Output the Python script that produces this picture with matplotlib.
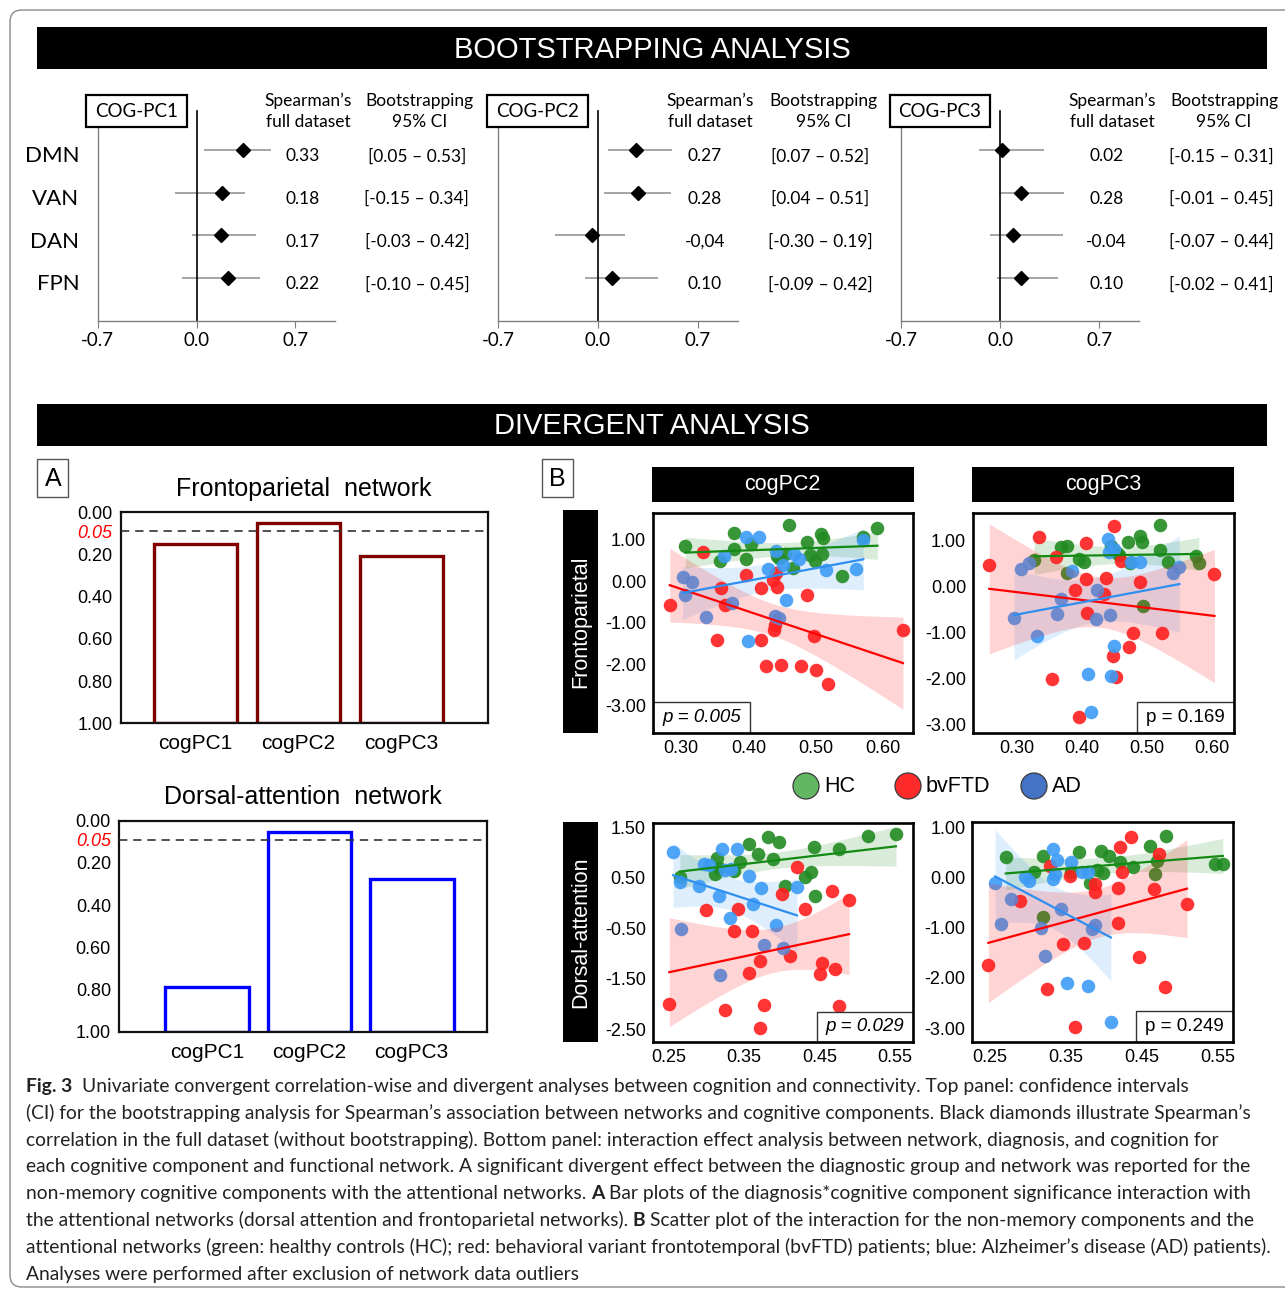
import numpy as np
import matplotlib
matplotlib.use("Agg")
import matplotlib.pyplot as plt
from matplotlib.patches import Rectangle, Circle, FancyBboxPatch

plt.rcParams['axes.unicode_minus'] = False

W, H = 1285, 1290
fig = plt.figure(figsize=(W / 100, H / 100), dpi=100)
ARIAL = ['Liberation Sans', 'DejaVu Sans']
CAL = ['Lato', 'DejaVu Sans']
CAP = ['Lato', 'DejaVu Sans']

# ---------------- data: bootstrapping forest plots ----------------
forest_titles = ["COG-PC1", "COG-PC2", "COG-PC3"]
networks = ["DMN", "VAN", "DAN", "FPN"]
rho_text = [["0.33", "0.18", "0.17", "0.22"],
            ["0.27", "0.28", "-0,04", "0.10"],
            ["0.02", "0.28", "-0.04", "0.10"]]
diamond_pos = [[0.33, 0.18, 0.17, 0.22],
               [0.27, 0.28, -0.04, 0.10],
               [0.01, 0.15, 0.09, 0.15]]
ci_low = [[0.05, -0.15, -0.03, -0.10],
          [0.07, 0.04, -0.30, -0.09],
          [-0.15, -0.01, -0.07, -0.02]]
ci_high = [[0.53, 0.34, 0.42, 0.45],
           [0.52, 0.51, 0.19, 0.42],
           [0.31, 0.45, 0.44, 0.41]]
forest_ticks = [-0.7, 0.0, 0.7]

# ---------------- data: bar plots (p values) ----------------
bar_cats = ["cogPC1", "cogPC2", "cogPC3"]
p_fronto = [0.152, 0.052, 0.207]
p_dorsal = [0.787, 0.055, 0.278]
p_thresh_pos = 0.09
bar_yticks = [0.0, p_thresh_pos, 0.2, 0.4, 0.6, 0.8, 1.0]
bar_ylabels = ["0.00", "0.05", "0.20", "0.40", "0.60", "0.80", "1.00"]

# ---------------- data: scatter plots ----------------
groups = ["HC", "bvFTD", "AD"]
# Frontoparietal x cogPC2
fp2_hc_x = [0.306, 0.378, 0.378, 0.404, 0.358, 0.397, 0.461, 0.443, 0.454, 0.445, 0.487, 0.492, 0.499, 0.508, 0.511, 0.510, 0.466, 0.540, 0.571, 0.592]
fp2_hc_y = [0.84, 1.16, 0.78, 0.90, 0.49, 0.52, 1.34, 0.60, 0.66, 0.56, 0.94, 0.62, 0.49, 1.14, 1.04, 0.66, 0.32, 0.12, 1.06, 1.27]
fp2_ad_x = [0.397, 0.416, 0.441, 0.363, 0.468, 0.476, 0.451, 0.429, 0.516, 0.560, 0.571, 0.456, 0.302, 0.316, 0.306, 0.376, 0.337, 0.439, 0.446, 0.400]
fp2_ad_y = [1.06, 1.06, 0.72, 0.61, 0.66, 0.52, 0.38, 0.28, 0.26, 0.30, 1.00, -0.45, 0.10, -0.02, -0.34, -0.53, -0.86, -0.85, -0.89, -1.44]
fp2_ftd_x = [0.332, 0.397, 0.441, 0.436, 0.443, 0.419, 0.359, 0.283, 0.365, 0.487, 0.439, 0.438, 0.419, 0.353, 0.497, 0.426, 0.449, 0.479, 0.500, 0.519, 0.630]
fp2_ftd_y = [0.69, 0.14, 0.20, 0.02, -0.14, -0.16, -0.16, -0.57, -0.58, -0.34, -1.07, -1.19, -1.41, -1.41, -1.32, -2.05, -2.03, -2.04, -2.15, -2.48, -1.17]
# Frontoparietal x cogPC3
fp3_hc_x = [0.327, 0.368, 0.377, 0.396, 0.404, 0.377, 0.445, 0.454, 0.458, 0.471, 0.490, 0.492, 0.474, 0.520, 0.521, 0.532, 0.575, 0.580, 0.494]
fp3_hc_y = [0.58, 0.85, 0.88, 0.60, 0.53, 0.29, 0.87, 0.73, 0.67, 0.96, 1.10, 0.96, 0.51, 0.78, 1.32, 0.53, 0.65, 0.51, -0.43]
fp3_ad_x = [0.307, 0.319, 0.385, 0.440, 0.442, 0.450, 0.475, 0.490, 0.541, 0.550, 0.423, 0.368, 0.296, 0.362, 0.422, 0.443, 0.331, 0.449, 0.410, 0.445, 0.414]
fp3_ad_y = [0.38, 0.51, 0.34, 1.03, 0.74, 0.80, 0.53, 0.53, 0.29, 0.42, -0.07, -0.27, -0.68, -0.61, -0.70, -0.63, -1.08, -1.30, -1.89, -1.95, -2.73]
fp3_ftd_x = [0.258, 0.335, 0.361, 0.407, 0.450, 0.461, 0.407, 0.437, 0.490, 0.604, 0.390, 0.435, 0.408, 0.479, 0.524, 0.472, 0.448, 0.354, 0.453, 0.396]
fp3_ftd_y = [0.46, 1.07, 0.64, 0.93, 1.30, 0.54, 0.15, 0.17, 0.09, 0.26, -0.09, -0.16, -0.58, -1.02, -1.02, -1.31, -1.50, -2.01, -1.96, -2.83]
# Dorsal-attention x cogPC2
da2_hc_x = [0.265, 0.314, 0.312, 0.317, 0.336, 0.345, 0.356, 0.369, 0.382, 0.396, 0.388, 0.404, 0.430, 0.439, 0.443, 0.444, 0.476, 0.514, 0.551]
da2_hc_y = [0.52, 0.90, 0.58, 0.69, 0.64, 0.81, 1.17, 0.97, 1.30, 1.20, 0.87, 0.34, 0.51, 0.61, 1.10, 0.13, 1.07, 1.33, 1.36]
da2_ad_x = [0.256, 0.265, 0.290, 0.297, 0.304, 0.321, 0.340, 0.325, 0.332, 0.317, 0.357, 0.372, 0.362, 0.331, 0.392, 0.420, 0.266, 0.376, 0.402, 0.318]
da2_ad_y = [1.00, 0.41, 0.34, 0.77, 0.75, 1.07, 1.07, 0.66, 0.67, 0.13, 0.54, 0.29, -0.02, -0.30, -0.43, 0.31, -0.51, -0.83, -0.90, -1.42]
da2_ftd_x = [0.299, 0.342, 0.336, 0.361, 0.400, 0.420, 0.430, 0.466, 0.489, 0.411, 0.371, 0.356, 0.453, 0.451, 0.470, 0.251, 0.325, 0.377, 0.371, 0.476]
da2_ftd_y = [-0.14, -0.12, -0.55, -0.55, 0.18, 0.72, -0.12, 0.23, 0.05, -1.05, -1.15, -1.39, -1.19, -1.40, -1.30, -2.00, -2.13, -2.03, -2.47, -2.04]
# Dorsal-attention x cogPC3
da3_hc_x = [0.271, 0.308, 0.320, 0.357, 0.367, 0.396, 0.407, 0.391, 0.399, 0.421, 0.438, 0.460, 0.469, 0.482, 0.467, 0.546, 0.556, 0.382, 0.320]
da3_hc_y = [0.40, 0.12, 0.42, 0.12, 0.50, 0.52, 0.42, 0.15, 0.10, 0.30, 0.20, 0.63, 0.32, 0.83, 0.07, 0.26, 0.26, -0.10, -0.78]
da3_ad_x = [0.257, 0.296, 0.301, 0.333, 0.338, 0.335, 0.333, 0.356, 0.371, 0.379, 0.278, 0.265, 0.317, 0.344, 0.384, 0.388, 0.322, 0.351, 0.379, 0.409]
da3_ad_y = [-0.11, 0.02, -0.07, 0.57, 0.35, 0.08, -0.03, 0.30, 0.11, 0.11, -0.43, -0.93, -1.00, -0.63, -1.02, -0.94, -1.57, -2.10, -2.16, -2.88]
da3_ftd_x = [0.329, 0.355, 0.388, 0.388, 0.421, 0.436, 0.424, 0.419, 0.466, 0.472, 0.509, 0.289, 0.418, 0.346, 0.374, 0.446, 0.248, 0.325, 0.480, 0.362]
da3_ftd_y = [0.22, 0.03, -0.13, -0.29, 0.60, 0.81, 0.12, -0.21, -0.23, 0.46, -0.53, -0.47, -0.91, -1.32, -1.31, -1.59, -1.75, -2.22, -2.18, -2.98]

p_texts = ["p = 0.005", "p = 0.169", "p = 0.029", "p = 0.249"]
scatter_cols = ["cogPC2", "cogPC3"]
scatter_rows = ["Frontoparietal", "Dorsal-attention"]
fp_ticks = [1.0, 0.0, -1.0, -2.0, -3.0]
da2_ticks = [1.5, 0.5, -0.5, -1.5, -2.5]

caption_lines = [
    [("Fig. 3", "bold"), ("  Univariate convergent correlation-wise and divergent analyses between cognition and connectivity. Top panel: confidence intervals", "normal")],
    [("(CI) for the bootstrapping analysis for Spearman’s association between networks and cognitive components. Black diamonds illustrate Spearman’s", "normal")],
    [("correlation in the full dataset (without bootstrapping). Bottom panel: interaction effect analysis between network, diagnosis, and cognition for", "normal")],
    [("each cognitive component and functional network. A significant divergent effect between the diagnostic group and network was reported for the", "normal")],
    [("non-memory cognitive components with the attentional networks. ", "normal"), ("A", "bold"), (" Bar plots of the diagnosis*cognitive component significance interaction with", "normal")],
    [("the attentional networks (dorsal attention and frontoparietal networks). ", "normal"), ("B", "bold"), (" Scatter plot of the interaction for the non-memory components and the", "normal")],
    [("attentional networks (green: healthy controls (HC); red: behavioral variant frontotemporal (bvFTD) patients; blue: Alzheimer’s disease (AD) patients).", "normal")],
    [("Analyses were performed after exclusion of network data outliers", "normal")],
]


def axpx(l, t, r, b, **kw):
    return fig.add_axes([l / W, 1 - b / H, (r - l) / W, (b - t) / H], **kw)


# ---------------- overlay (pixel coordinates) ----------------
ov = axpx(0, 0, W, H)
ov.set_xlim(0, W)
ov.set_ylim(H, 0)
ov.axis('off')
ov.add_patch(FancyBboxPatch((10, 10), 1300, 1277, boxstyle="round,pad=0,rounding_size=12",
                            ec='#8a8a8a', fc='none', lw=1.0))
for (yt, txt) in [(27, "BOOTSTRAPPING ANALYSIS"), (404, "DIVERGENT ANALYSIS")]:
    ov.add_patch(Rectangle((37, yt), 1230, 42, fc='black', ec='none'))
    ov.text(652, yt + 22.5, txt, color='white', fontsize=21, family=ARIAL, ha='center', va='center')

# ---------------- forest plots ----------------
forest_lr = [(97.7, 335.0), (498.0, 737.7), (901.0, 1139.0)]
rows = np.arange(1, 5)
txt_dy = 0.15
for k in range(3):
    l, r = forest_lr[k]
    ax = axpx(l, 126.7, r, 320.7)
    ax.set_xlim(-0.7, 0.98)
    ax.set_ylim(5.0, 0.457)
    ax.hlines(rows, ci_low[k], ci_high[k], color='#8c8c8c', lw=1.1, zorder=2)
    ax.plot(diamond_pos[k], rows, 'D', color='black', ms=7.5, zorder=3)
    ax.plot([0, 0], [5.0, 0.08], color='black', lw=1.2, clip_on=False, zorder=2)
    for s in ['top', 'right']:
        ax.spines[s].set_visible(False)
    for s in ['left', 'bottom']:
        ax.spines[s].set_color('#7f7f7f')
        ax.spines[s].set_linewidth(1.0)
    ax.set_yticks([])
    ax.set_xticks(forest_ticks)
    ax.set_xticklabels(["%.1f" % v for v in forest_ticks], family=CAL, fontsize=13.5)
    ax.tick_params(axis='x', length=5, color='#7f7f7f', pad=3)
    for i, row in enumerate(rows):
        ax.text(0.75, row + txt_dy, rho_text[k][i], ha='center', va='center', fontsize=12.5,
                family=CAL, clip_on=False)
        ax.text(1.56, row + txt_dy, "[%.2f – %.2f]" % (ci_low[k][i], ci_high[k][i]), ha='center',
                va='center', fontsize=12.5, family=CAL, clip_on=False)
        if k == 0:
            ax.text(-0.83, row + txt_dy, networks[i], ha='right', va='center', fontsize=16,
                    family=CAL, clip_on=False)
    ax.text(0.79, -0.14, "Spearman’s", ha='center', va='center', fontsize=12.5, family=CAL, clip_on=False)
    ax.text(0.79, 0.35, "full dataset", ha='center', va='center', fontsize=12.5, family=CAL, clip_on=False)
    ax.text(1.58, -0.14, "Bootstrapping", ha='center', va='center', fontsize=12.5, family=CAL, clip_on=False)
    ax.text(1.58, 0.35, "95% CI", ha='center', va='center', fontsize=12.5, family=CAL, clip_on=False)
    ax.add_patch(Rectangle((-0.78, -0.286), 0.71, 0.75, fc='white', ec='black', lw=1.6,
                           clip_on=False, zorder=5))
    ax.text(-0.425, 0.11, forest_titles[k], ha='center', va='center', fontsize=13.5,
            family=CAL, clip_on=False, zorder=6)

# ---------------- bar plots ----------------
def bar_panel(ax, pvals, color, xlim, width):
    x = np.arange(len(bar_cats))
    ax.bar(x, [1 - p for p in pvals], bottom=pvals, width=width, fc='white', ec=color, lw=2.4, zorder=2)
    ax.set_xlim(*xlim)
    ax.set_ylim(1.0, 0.0)
    ax.axhline(p_thresh_pos, color='#333333', ls=(0, (5, 3.5)), lw=1.2, zorder=3)
    ax.set_yticks(bar_yticks)
    ax.set_yticklabels(bar_ylabels, family=ARIAL, fontsize=13)
    lab = ax.get_yticklabels()[1]
    lab.set_color('red')
    lab.set_style('italic')
    ax.set_xticks(x)
    ax.set_xticklabels(bar_cats, family=ARIAL, fontsize=15)
    ax.tick_params(axis='both', length=0)
    ax.tick_params(axis='y', pad=6)
    ax.tick_params(axis='x', pad=8)
    for s in ax.spines.values():
        s.set_linewidth(1.6)
        s.set_color('#111111')


axA1 = axpx(120.7, 512.3, 487.7, 723.3)
bar_panel(axA1, p_fronto, '#800000', (-0.73, 2.84), 0.81)
axA2 = axpx(119.3, 820.7, 487.3, 1031.7)
bar_panel(axA2, p_dorsal, '#0000ff', (-0.86, 2.74), 0.82)
ov.text(304, 489, "Frontoparietal  network", ha='center', va='center', fontsize=18, family=ARIAL)
ov.text(303, 797.5, "Dorsal-attention  network", ha='center', va='center', fontsize=18, family=ARIAL)
for (bx, lab) in [(37.3, "A"), (541.7, "B")]:
    ov.add_patch(Rectangle((bx, 459), 31, 38, fc='white', ec='#555555', lw=1.0))
    ov.text(bx + 15.5, 478.5, lab, ha='center', va='center', fontsize=18, family=ARIAL)

# ---------------- scatter plots ----------------
pt_col = {"HC": '#228b22', "bvFTD": '#ff1f1f', "AD": '#3d9bf5'}
ln_col = {"HC": '#138a13', "bvFTD": '#ff0000', "AD": '#2f8ff0'}
band_alpha = {"HC": 0.17, "bvFTD": 0.19, "AD": 0.17}
band_z = {"HC": 1, "bvFTD": 3, "AD": 1}


def fit_band(x, y, n=80):
    x = np.asarray(x, float)
    y = np.asarray(y, float)
    b, a = np.polyfit(x, y, 1)
    xs = np.linspace(x.min(), x.max(), n)
    yh = a + b * xs
    res = y - (a + b * x)
    s = np.sqrt(np.sum(res ** 2) / (len(x) - 2))
    sxx = np.sum((x - x.mean()) ** 2)
    se = s * np.sqrt(1.0 / len(x) + (xs - x.mean()) ** 2 / sxx)
    t = 2.1
    return xs, yh, yh - t * se, yh + t * se


panels = [
    dict(pos=(653, 513, 913, 733), xlim=(0.258, 0.645), ylim=(-3.66, 1.64),
         xt=[0.30, 0.40, 0.50, 0.60], yt=fp_ticks,
         data={"HC": (fp2_hc_x, fp2_hc_y), "bvFTD": (fp2_ftd_x, fp2_ftd_y), "AD": (fp2_ad_x, fp2_ad_y)},
         ptxt=p_texts[0], italic=True, left=True),
    dict(pos=(973, 513, 1234, 733), xlim=(0.233, 0.634), ylim=(-3.18, 1.59),
         xt=[0.30, 0.40, 0.50, 0.60], yt=fp_ticks,
         data={"HC": (fp3_hc_x, fp3_hc_y), "bvFTD": (fp3_ftd_x, fp3_ftd_y), "AD": (fp3_ad_x, fp3_ad_y)},
         ptxt=p_texts[1], italic=False, left=False),
    dict(pos=(652.7, 822.7, 913.3, 1042.3), xlim=(0.229, 0.574), ylim=(-2.76, 1.59),
         xt=[0.25, 0.35, 0.45, 0.55], yt=da2_ticks,
         data={"HC": (da2_hc_x, da2_hc_y), "bvFTD": (da2_ftd_x, da2_ftd_y), "AD": (da2_ad_x, da2_ad_y)},
         ptxt=p_texts[2], italic=True, left=False),
    dict(pos=(972.3, 822.3, 1232.7, 1041.7), xlim=(0.227, 0.569), ylim=(-3.27, 1.10),
         xt=[0.25, 0.35, 0.45, 0.55], yt=fp_ticks,
         data={"HC": (da3_hc_x, da3_hc_y), "bvFTD": (da3_ftd_x, da3_ftd_y), "AD": (da3_ad_x, da3_ad_y)},
         ptxt=p_texts[3], italic=False, left=False),
]

for P in panels:
    ax = axpx(*P['pos'])
    for g in groups:
        gx, gy = P['data'][g]
        ax.scatter(gx, gy, s=95, color=pt_col[g], alpha=0.9, lw=0, zorder=2)
    for g in groups:
        gx, gy = P['data'][g]
        xs, yh, lo, hi = fit_band(gx, gy)
        ax.fill_between(xs, lo, hi, color=pt_col[g], alpha=band_alpha[g], lw=0, zorder=band_z[g])
        ax.plot(xs, yh, color=ln_col[g], lw=1.6, zorder=4)
    ax.set_xlim(*P['xlim'])
    ax.set_ylim(*P['ylim'])
    ax.set_xticks(P['xt'])
    ax.set_xticklabels(["%.2f" % v for v in P['xt']], family=ARIAL, fontsize=13)
    ax.set_yticks(P['yt'])
    ax.set_yticklabels(["%.2f" % v for v in P['yt']], family=ARIAL, fontsize=13)
    ax.tick_params(axis='both', length=0, pad=5)
    for s in ax.spines.values():
        s.set_linewidth(1.9)
        s.set_color('black')
        s.set_zorder(6)
    bw = 0.373 if P['left'] else 0.37
    bx = 0.0 if P['left'] else 1.0 - bw
    ax.add_patch(Rectangle((bx, 0), bw, 0.14, transform=ax.transAxes, fc='white',
                           ec='#333333', lw=1.0, zorder=5))
    ax.text(bx + bw / 2, 0.07, P['ptxt'], transform=ax.transAxes, ha='center', va='center',
            fontsize=13.5, family=ARIAL, style='italic' if P['italic'] else 'normal', zorder=6)

# headers and row labels
for (l, txt) in [(651.7, scatter_cols[0]), (972.0, scatter_cols[1])]:
    ov.add_patch(Rectangle((l, 466.5), 261.8, 35.5, fc='black', ec='none'))
    ov.text(l + 130.9, 484.5, txt, color='white', ha='center', va='center', fontsize=15.5, family=ARIAL)
for (t, b, txt) in [(510, 733.3, scatter_rows[0]), (822, 1042, scatter_rows[1])]:
    ov.add_patch(Rectangle((563.3, t), 34.4, b - t, fc='black', ec='none'))
    ov.text(580.5, (t + b) / 2, txt, color='white', ha='center', va='center', fontsize=15.5,
            family=ARIAL, rotation=90)

# legend
leg_fill = {"HC": '#63b763', "bvFTD": '#ff2b2b', "AD": '#4472c4'}
leg_cx = {"HC": 806, "bvFTD": 908, "AD": 1034}
for g in groups:
    ov.add_patch(Circle((leg_cx[g], 786), 13, fc=leg_fill[g], ec='#3a3a3a', lw=0.9))
    ov.text(leg_cx[g] + 18, 787, g, ha='left', va='center', fontsize=15.5, family=ARIAL)

# ---------------- caption ----------------
renderer = fig.canvas.get_renderer()


def text_width(s, size, weight):
    t = fig.text(0, 0, s, fontsize=size, fontweight=weight, family=CAP)
    w = t.get_window_extent(renderer=renderer).width
    t.remove()
    return w


def seg_width(s, size, weight):
    sw = text_width("x x", size, weight) - text_width("xx", size, weight)
    lead = len(s) - len(s.lstrip(' '))
    trail = len(s) - len(s.rstrip(' '))
    core = s.strip(' ')
    w = text_width(core, size, weight) if core else 0.0
    return w, lead * sw, trail * sw, core


base = 13.0
w7 = sum(seg_width(s, base, wt)[0] for s, wt in caption_lines[6])
cap_size = base * 1242.0 / w7

cap_y0, cap_dy = 1092.0, 26.8
for i, line in enumerate(caption_lines):
    cx = 26.0
    y = cap_y0 + i * cap_dy
    for s, wt in line:
        w, lead, trail, core = seg_width(s, cap_size, wt)
        cx += lead
        if core:
            fig.text(cx / W, 1 - y / H, core, fontsize=cap_size, fontweight=wt, family=CAP,
                     ha='left', va='baseline', color='#222222')
        cx += w + trail

fig.savefig("out.png", dpi=100)
